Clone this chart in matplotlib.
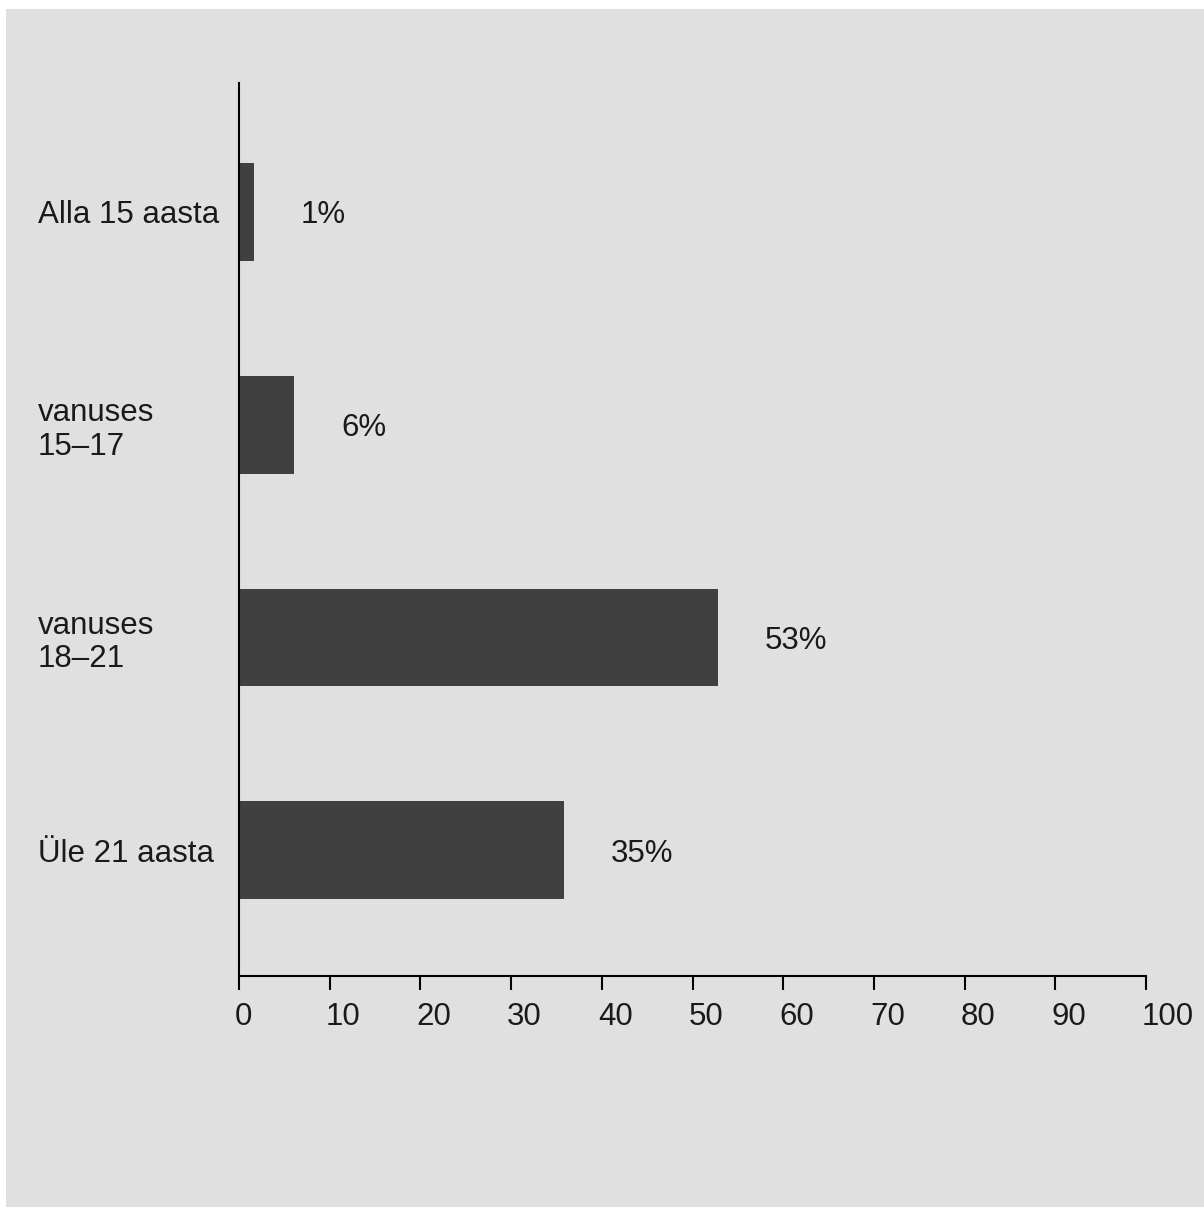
import matplotlib
matplotlib.use("Agg")
import matplotlib.pyplot as plt
from matplotlib.patches import Rectangle
from matplotlib.transforms import ScaledTranslation

categories = ["Alla 15 aasta", "vanuses\n15–17", "vanuses\n18–21", "Üle 21 aasta"]
values = [1.6, 6.1, 52.8, 35.8]
value_labels = ["1%", "6%", "53%", "35%"]
xticks = [0, 10, 20, 30, 40, 50, 60, 70, 80, 90, 100]

plt.rcParams['font.family'] = ['Liberation Sans', 'DejaVu Sans']
W, H = 1204, 1208
FS = 22.5
fig = plt.figure(figsize=(W / 100, H / 100), dpi=100, facecolor='white')
fig.patches.append(Rectangle((6 / W, 1 / H), 1 - 6 / W, (1207 - 9) / H,
                             transform=fig.transFigure, facecolor='#e0e0e0',
                             edgecolor='none', zorder=-10))

ax = fig.add_axes([239 / W, 1 - 976 / H, (1146 - 239) / W, (976 - 83) / H])
ax.set_zorder(5)
ax.set_facecolor('none')
ypos = list(range(len(categories)))
ax.barh(ypos, values, height=0.46, color='#404040', zorder=2)
ax.set_xlim(0, 100)
ax.set_ylim(3.59, -0.605)

for y, v, lab in zip(ypos, values, value_labels):
    ax.annotate(lab, xy=(v, y), xytext=(34, -8), textcoords='offset points',
                ha='left', va='baseline', fontsize=FS, color='#1a1a1a')

ax.set_yticks(ypos)
ax.set_yticklabels(categories, fontsize=FS, color='#1a1a1a', ha='left',
                   linespacing=1.15)
ax.tick_params(axis='y', length=0, pad=144.7)

ax.set_xticks(xticks)
ax.set_xticklabels([str(t) for t in xticks], fontsize=FS, color='#1a1a1a')
ax.tick_params(axis='x', direction='out', length=10, width=1.5, color='black', pad=8.5)
shift = ScaledTranslation(-4 / 100, 0, fig.dpi_scale_trans)
for lbl in ax.get_xticklabels():
    lbl.set_horizontalalignment('left')
    lbl.set_transform(lbl.get_transform() + shift)

for s in ['top', 'right']:
    ax.spines[s].set_visible(False)
for s in ['left', 'bottom']:
    ax.spines[s].set_linewidth(1.5)
    ax.spines[s].set_color('black')

fig.savefig('out.png', dpi=100, facecolor='white')
